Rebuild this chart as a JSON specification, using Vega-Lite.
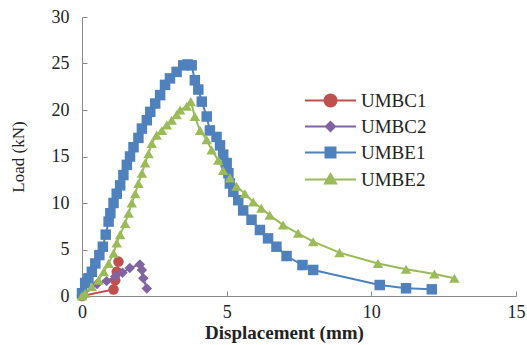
{
  "$schema": "https://vega.github.io/schema/vega-lite/v6.json",
  "width": 434,
  "height": 279,
  "autosize": "none",
  "padding": {"left": 82, "top": 17, "right": 11, "bottom": 49},
  "background": "white",
  "config": {
    "view": {"stroke": null},
    "font": "Liberation Serif, Times New Roman, serif",
    "axis": {"grid": false, "domainColor": "#8a8a8a", "tickColor": "#8a8a8a", "labelFont": "Liberation Serif, Times New Roman, serif", "titleFont": "Liberation Serif, Times New Roman, serif", "labelColor": "#222", "titleColor": "#222", "labelFontSize": 18, "titleFontSize": 18}
  },
  "data": {"values": [
    {"s":"UMBC1","i":0,"x":0,"y":0},{"s":"UMBC1","i":1,"x":1.09,"y":0.7},{"s":"UMBC1","i":2,"x":1.15,"y":1.7},{"s":"UMBC1","i":3,"x":1.2,"y":2.6},{"s":"UMBC1","i":4,"x":1.26,"y":3.7},
    {"s":"UMBC2","i":0,"x":0,"y":0},{"s":"UMBC2","i":1,"x":0.52,"y":1.3},{"s":"UMBC2","i":2,"x":0.85,"y":1.6},{"s":"UMBC2","i":3,"x":1.15,"y":2.1},{"s":"UMBC2","i":4,"x":1.4,"y":2.5},{"s":"UMBC2","i":5,"x":1.65,"y":3.0},{"s":"UMBC2","i":6,"x":2.0,"y":3.4},{"s":"UMBC2","i":7,"x":2.07,"y":2.8},{"s":"UMBC2","i":8,"x":2.12,"y":1.9},{"s":"UMBC2","i":9,"x":2.24,"y":0.8},
    {"s":"UMBE1","i":0,"x":0,"y":0.3},{"s":"UMBE1","i":1,"x":0.11,"y":1.4},{"s":"UMBE1","i":2,"x":0.22,"y":1.9},{"s":"UMBE1","i":3,"x":0.34,"y":2.6},{"s":"UMBE1","i":4,"x":0.46,"y":3.5},{"s":"UMBE1","i":5,"x":0.6,"y":4.4},{"s":"UMBE1","i":6,"x":0.72,"y":5.3},{"s":"UMBE1","i":7,"x":0.82,"y":6.6},{"s":"UMBE1","i":8,"x":0.92,"y":8.0},{"s":"UMBE1","i":9,"x":0.98,"y":8.9},{"s":"UMBE1","i":10,"x":1.09,"y":10},{"s":"UMBE1","i":11,"x":1.2,"y":11},{"s":"UMBE1","i":12,"x":1.32,"y":11.9},{"s":"UMBE1","i":13,"x":1.43,"y":13},{"s":"UMBE1","i":14,"x":1.55,"y":14.1},{"s":"UMBE1","i":15,"x":1.66,"y":15},{"s":"UMBE1","i":16,"x":1.78,"y":16},{"s":"UMBE1","i":17,"x":1.95,"y":17},{"s":"UMBE1","i":18,"x":2.07,"y":18},{"s":"UMBE1","i":19,"x":2.24,"y":18.9},{"s":"UMBE1","i":20,"x":2.36,"y":19.8},{"s":"UMBE1","i":21,"x":2.53,"y":20.7},{"s":"UMBE1","i":22,"x":2.7,"y":21.6},{"s":"UMBE1","i":23,"x":2.87,"y":22.7},{"s":"UMBE1","i":24,"x":3.04,"y":23.4},{"s":"UMBE1","i":25,"x":3.27,"y":24.1},{"s":"UMBE1","i":26,"x":3.5,"y":24.8},{"s":"UMBE1","i":27,"x":3.65,"y":24.9},{"s":"UMBE1","i":28,"x":3.79,"y":24.8},{"s":"UMBE1","i":29,"x":3.9,"y":23.2},{"s":"UMBE1","i":30,"x":4.02,"y":22.2},{"s":"UMBE1","i":31,"x":4.14,"y":20.9},{"s":"UMBE1","i":32,"x":4.31,"y":19.3},{"s":"UMBE1","i":33,"x":4.42,"y":17.8},{"s":"UMBE1","i":34,"x":4.65,"y":17.1},{"s":"UMBE1","i":35,"x":4.77,"y":16.2},{"s":"UMBE1","i":36,"x":4.88,"y":15.2},{"s":"UMBE1","i":37,"x":5.0,"y":14.3},{"s":"UMBE1","i":38,"x":5.06,"y":13.2},{"s":"UMBE1","i":39,"x":5.11,"y":12.1},{"s":"UMBE1","i":40,"x":5.23,"y":11.2},{"s":"UMBE1","i":41,"x":5.4,"y":10.3},{"s":"UMBE1","i":42,"x":5.57,"y":9.2},{"s":"UMBE1","i":43,"x":5.86,"y":8.2},{"s":"UMBE1","i":44,"x":6.15,"y":7.1},{"s":"UMBE1","i":45,"x":6.43,"y":6.2},{"s":"UMBE1","i":46,"x":6.72,"y":5.3},{"s":"UMBE1","i":47,"x":7.07,"y":4.3},{"s":"UMBE1","i":48,"x":7.62,"y":3.33},{"s":"UMBE1","i":49,"x":7.99,"y":2.8},{"s":"UMBE1","i":50,"x":10.29,"y":1.18},{"s":"UMBE1","i":51,"x":11.2,"y":0.83},{"s":"UMBE1","i":52,"x":12.09,"y":0.72},
    {"s":"UMBE2","i":0,"x":0,"y":0},{"s":"UMBE2","i":1,"x":0.11,"y":0.3},{"s":"UMBE2","i":2,"x":0.34,"y":1.0},{"s":"UMBE2","i":3,"x":0.57,"y":1.7},{"s":"UMBE2","i":4,"x":0.75,"y":2.6},{"s":"UMBE2","i":5,"x":0.92,"y":3.5},{"s":"UMBE2","i":6,"x":1.09,"y":4.6},{"s":"UMBE2","i":7,"x":1.2,"y":5.7},{"s":"UMBE2","i":8,"x":1.32,"y":6.6},{"s":"UMBE2","i":9,"x":1.49,"y":7.8},{"s":"UMBE2","i":10,"x":1.61,"y":8.9},{"s":"UMBE2","i":11,"x":1.72,"y":10},{"s":"UMBE2","i":12,"x":1.84,"y":11},{"s":"UMBE2","i":13,"x":1.95,"y":12.1},{"s":"UMBE2","i":14,"x":2.07,"y":13.2},{"s":"UMBE2","i":15,"x":2.18,"y":14.3},{"s":"UMBE2","i":16,"x":2.3,"y":15.3},{"s":"UMBE2","i":17,"x":2.41,"y":16.4},{"s":"UMBE2","i":18,"x":2.58,"y":17.3},{"s":"UMBE2","i":19,"x":2.76,"y":17.8},{"s":"UMBE2","i":20,"x":2.93,"y":18.4},{"s":"UMBE2","i":21,"x":3.1,"y":18.9},{"s":"UMBE2","i":22,"x":3.27,"y":19.5},{"s":"UMBE2","i":23,"x":3.39,"y":20},{"s":"UMBE2","i":24,"x":3.62,"y":20.4},{"s":"UMBE2","i":25,"x":3.76,"y":20.9},{"s":"UMBE2","i":26,"x":3.9,"y":19.3},{"s":"UMBE2","i":27,"x":4.08,"y":17.8},{"s":"UMBE2","i":28,"x":4.31,"y":16.8},{"s":"UMBE2","i":29,"x":4.48,"y":15.7},{"s":"UMBE2","i":30,"x":4.71,"y":14.6},{"s":"UMBE2","i":31,"x":4.88,"y":13.5},{"s":"UMBE2","i":32,"x":5.11,"y":12.7},{"s":"UMBE2","i":33,"x":5.34,"y":11.8},{"s":"UMBE2","i":34,"x":5.63,"y":11.0},{"s":"UMBE2","i":35,"x":5.92,"y":10.1},{"s":"UMBE2","i":36,"x":6.2,"y":9.43},{"s":"UMBE2","i":37,"x":6.49,"y":8.7},{"s":"UMBE2","i":38,"x":6.95,"y":7.63},{"s":"UMBE2","i":39,"x":7.47,"y":6.74},{"s":"UMBE2","i":40,"x":7.99,"y":5.84},{"s":"UMBE2","i":41,"x":8.9,"y":4.66},{"s":"UMBE2","i":42,"x":10.23,"y":3.5},{"s":"UMBE2","i":43,"x":11.2,"y":2.87},{"s":"UMBE2","i":44,"x":12.18,"y":2.37},{"s":"UMBE2","i":45,"x":12.87,"y":1.9}
  ]},
  "encoding": {
    "x": {"field": "x", "type": "quantitative", "scale": {"domain": [0, 15], "nice": false, "zero": false},
      "axis": {"title": "Displacement (mm)", "values": [0, 5, 10, 15], "tickSize": -5, "labelPadding": 12, "titlePadding": 2, "titleFontWeight": "bold", "titleFontSize": 19, "titleX": 202, "labelFlush": false}},
    "y": {"field": "y", "type": "quantitative", "scale": {"domain": [0, 30], "nice": false},
      "axis": {"title": "Load (kN)", "values": [0, 5, 10, 15, 20, 25, 30], "tickSize": -5, "labelPadding": 18, "titlePadding": 24, "titleFontSize": 17, "titleFontWeight": "normal"}},
    "color": {"field": "s", "type": "nominal", "scale": {"domain": ["UMBC1", "UMBC2", "UMBE1", "UMBE2"], "range": ["#C0504D", "#8064A2", "#4F81BD", "#9BBB59"]},
      "legend": {"title": null, "orient": "none", "legendX": 239, "legendY": 74, "padding": 0, "symbolSize": 100, "labelFontSize": 19, "labelFont": "Liberation Serif, Times New Roman, serif", "labelColor": "#222", "labelOffset": 21, "rowPadding": 6,
        "encode": {"symbols": {"update": {
          "shape": [
            {"test": "datum.value === 'UMBC1'", "value": "M-5.1,0H5.1M-1.2,0A1.2,1.2,0,1,1,1.2,0A1.2,1.2,0,1,1,-1.2,0Z"},
            {"test": "datum.value === 'UMBC2'", "value": "M-5.1,0H5.1M0,-0.92L0.92,0L0,0.92L-0.92,0Z"},
            {"test": "datum.value === 'UMBE1'", "value": "M-5.1,0H5.1M-1,-1H1V1H-1Z"},
            {"value": "M-5.1,0H5.1M0,-1.12L1.12,0.82L-1.12,0.82Z"}
          ],
          "stroke": {"scale": "color", "field": "value"},
          "fill": {"scale": "color", "field": "value"},
          "strokeWidth": {"value": 2},
          "opacity": {"value": 1}
        }}}}}
  },
  "layer": [
    {"mark": {"type": "line", "strokeWidth": 2}, "encoding": {"order": {"field": "i", "type": "quantitative"}}},
    {"mark": {"type": "point", "filled": true, "opacity": 1, "size": 110},
     "encoding": {
       "shape": {"condition": [
         {"test": "datum.s === 'UMBC1'", "value": "circle"},
         {"test": "datum.s === 'UMBC2'", "value": "diamond"},
         {"test": "datum.s === 'UMBE1'", "value": "square"}
       ], "value": "triangle-up"}
     }}
  ]
}
